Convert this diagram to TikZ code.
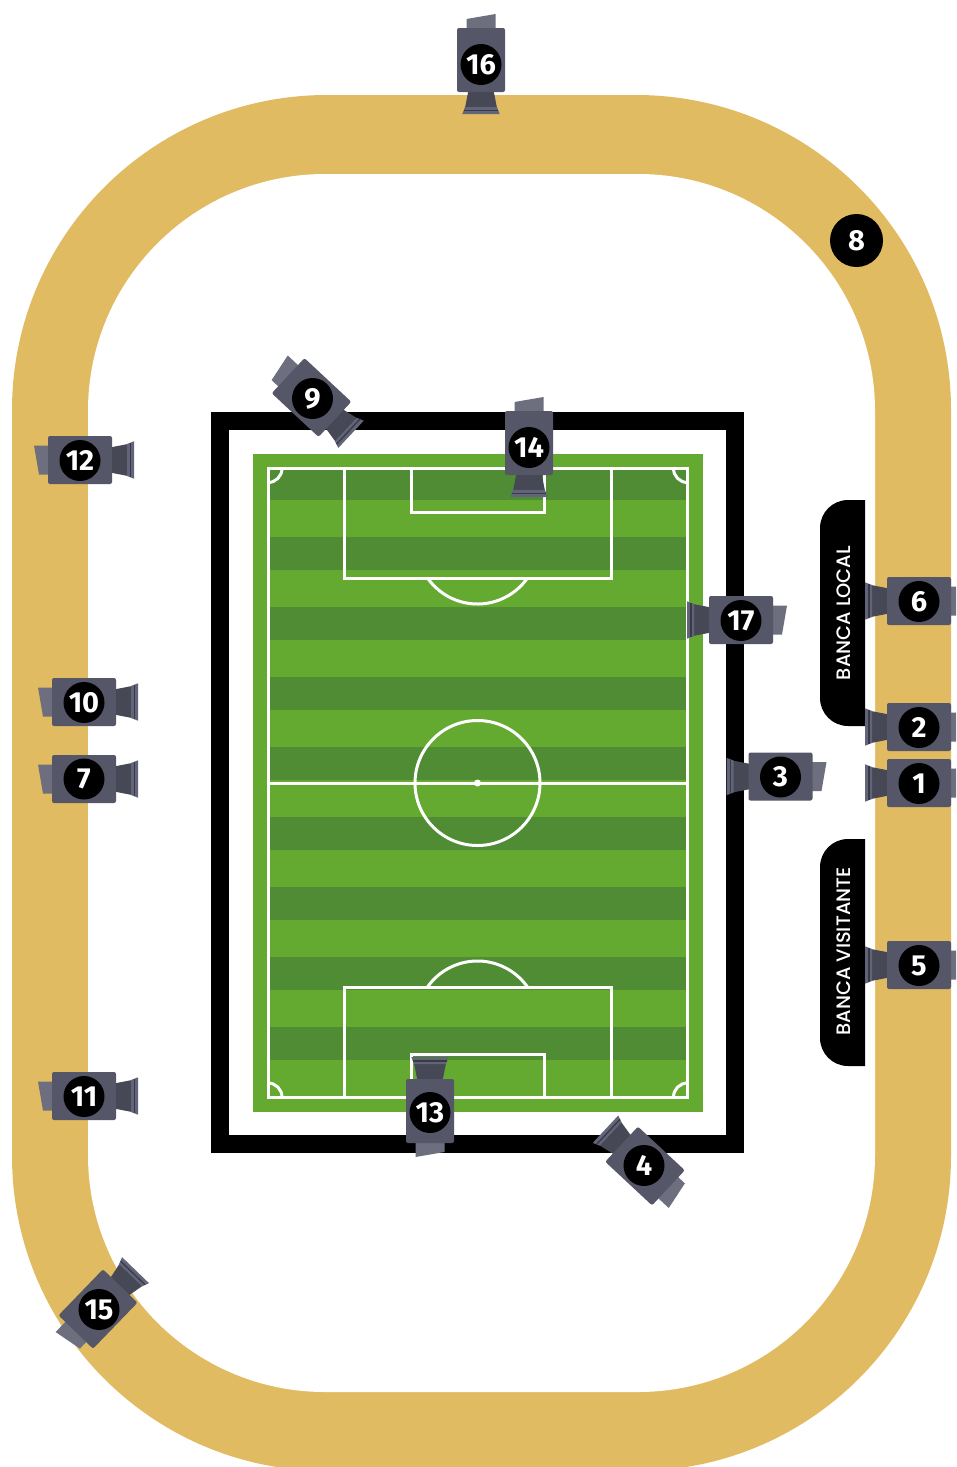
\documentclass[tikz,border=0pt]{standalone}
\usepackage{fontspec}
\setmainfont{Fira Sans}
\newfontfamily\bancafont{Poppins Medium}
\definecolor{track}{HTML}{E1BB62}
\definecolor{grass}{HTML}{65AA30}
\definecolor{grassdark}{HTML}{4F8C33}
\definecolor{cambody}{HTML}{555668}
\definecolor{camback}{HTML}{6D6F7E}
\definecolor{camlens}{HTML}{474856}
\definecolor{camflange}{HTML}{62647A}
\tikzset{
  numdot/.style={circle,fill=black,text=white,inner sep=0pt,minimum size=41pt,font=\fontsize{29}{29}\selectfont\bfseries},
  bigdot/.style={numdot,minimum size=53pt},
  banca/.style={rotate=90,text=white,font=\fontsize{19.4}{20}\bancafont},
  pitchline/.style={draw=white,line width=3pt}
}
% one camera, lens along local x
\newcommand{\cam}[2]{
  \begin{scope}[shift={(#1)},#2]
  \fill[camback] (-30,-14.5) -- (-46,-14.5) -- (-41,14.5) -- (-30,14.5) -- cycle;
  \fill[camlens] (30,-12.5) -- (48,-16) -- (48,16) -- (30,12.5) -- cycle;
  \fill[camflange] (47,-16) -- (54,-18.7) -- (54,18.7) -- (47,16) -- cycle;
  \fill[camlens!80!black] (49.5,-17) rectangle (50.8,17);
  \fill[cambody,rounded corners=2pt] (-32,-24) rectangle (32,24);
  \end{scope}
}
\begin{document}
\begin{tikzpicture}[x=1pt,y=-1pt]
\path[use as bounding box,clip] (0,0) rectangle (956,1467);

% track
\fill[track,rounded corners=315pt] (12,95) rectangle (951,1471);
\fill[white,rounded corners=237pt] (88,174) rectangle (875,1392);

% stand and pitch
\fill[black] (211,412) rectangle (744,1153);
\fill[white] (229,430) rectangle (726,1135);
\fill[grass] (253,454) rectangle (703,1112);
\foreach \y in {467,537,607,677,747,817,887,957,1027}
  \fill[grassdark] (269,\y) rectangle (686,\y+33);

% pitch lines
\draw[pitchline] (268,468.5) rectangle (687.5,1097);
\draw[pitchline] (268,783) -- (687.5,783);
\draw[pitchline] (477.5,783) circle (62.5pt);
\fill[white] (477.5,783) circle (3.5pt);
\draw[pitchline] (344,468.5) rectangle (611,578);
\draw[pitchline] (411,468.5) rectangle (544.5,512);
\draw[pitchline] (344,1097) rectangle (611,987);
\draw[pitchline] (411,1097) rectangle (544.5,1054);
\draw[pitchline] (427.5,578) arc[start angle=215,end angle=325,radius=61pt];
\draw[pitchline] (427.5,987) arc[start angle=145,end angle=35,radius=61pt];
\draw[pitchline] (282,468.5) arc[start angle=0,end angle=-90,radius=14pt];
\draw[pitchline] (673.5,468.5) arc[start angle=180,end angle=270,radius=14pt];
\draw[pitchline] (282,1097) arc[start angle=0,end angle=90,radius=14pt];
\draw[pitchline] (673.5,1097) arc[start angle=180,end angle=90,radius=14pt];

% stands for the benches
\fill[black] (865,500) -- (848,500) arc[start angle=90,end angle=180,radius=28pt] -- (820,698) arc[start angle=180,end angle=270,radius=28pt] -- (865,726) -- cycle;
\fill[black] (865,839) -- (848,839) arc[start angle=90,end angle=180,radius=28pt] -- (820,1038) arc[start angle=180,end angle=270,radius=28pt] -- (865,1066) -- cycle;
\node[banca] (local) at (843.5,613) {BANCA LOCAL};
\node[banca] (visitante) at (843.5,951.5) {BANCA VISITANTE};

% cameras
\cam{80,460}{rotate=0}
\cam{84,702}{rotate=0}
\cam{84,779}{rotate=0}
\cam{84,1096}{rotate=0}
\cam{919,601}{rotate=180,yscale=-1}
\cam{919,727}{rotate=180,yscale=-1}
\cam{919,783}{rotate=180,yscale=-1}
\cam{919,965}{rotate=180,yscale=-1}
\cam{780.5,776.5}{rotate=180,yscale=-1}
\cam{741,620}{rotate=180,yscale=-1}
\cam{481,60}{rotate=-90}
\cam{529,443}{rotate=-90}
\cam{430,1111}{rotate=90}
\cam{311.5,397.5}{rotate=-43}
\cam{645,1166}{rotate=137}
\cam{98,1309}{rotate=46}

% numbers
\node[numdot] (n1) at (919,783.5) {1};
\node[numdot] (n2) at (919,727.5) {2};
\node[numdot] (n3) at (780.5,777) {3};
\node[numdot] (n4) at (644,1165.5) {4};
\node[numdot] (n5) at (919,965.5) {5};
\node[numdot] (n6) at (919,601.5) {6};
\node[numdot] (n7) at (84,779) {7};
\node[bigdot] (n8) at (856.5,240.5) {8};
\node[numdot] (n9) at (312.5,398.5) {9};
\node[numdot] (n10) at (84,702.5) {10};
\node[numdot] (n11) at (84,1096.5) {11};
\node[numdot] (n12) at (80,460.5) {12};
\node[numdot] (n13) at (430,1112.5) {13};
\node[numdot] (n14) at (529,447.5) {14};
\node[numdot] (n15) at (99,1309.5) {15};
\node[numdot] (n16) at (481,64.5) {16};
\node[numdot] (n17) at (741,620.5) {17};
\end{tikzpicture}
\end{document}
